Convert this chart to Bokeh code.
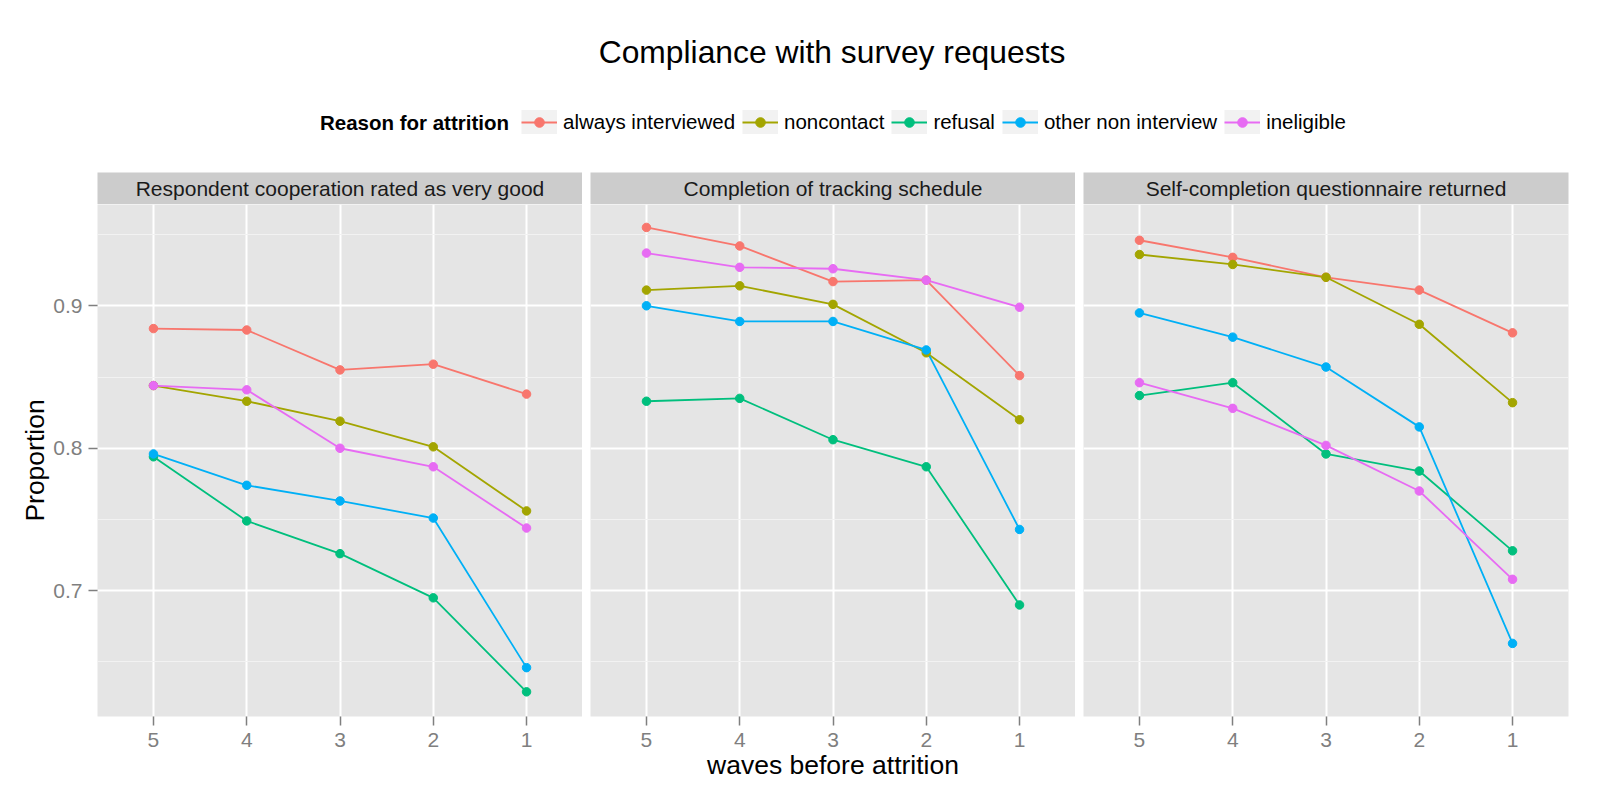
from bokeh.plotting import figure
from bokeh.models import (ColumnDataSource, Range1d, FixedTicker, Legend, LegendItem, Label)
from bokeh.layouts import column, row
from bokeh.embed import file_html
from bokeh.resources import INLINE

# ---------------- data ----------------
title_text = "Compliance with survey requests"
legend_title = "Reason for attrition"
x_label = "waves before attrition"
y_label = "Proportion"

waves = [5, 4, 3, 2, 1]
y_ticks = [0.7, 0.8, 0.9]
y_minor = [0.65, 0.75, 0.85, 0.95]

facets = ["Respondent cooperation rated as very good",
          "Completion of tracking schedule",
          "Self-completion questionnaire returned"]
reasons = ["always interviewed", "noncontact", "refusal", "other non interview", "ineligible"]
colors = ["#F8766D", "#A3A500", "#00BF7D", "#00B0F6", "#E76BF3"]

coop_always = [0.884, 0.883, 0.855, 0.859, 0.838]
coop_noncontact = [0.844, 0.833, 0.819, 0.801, 0.756]
coop_refusal = [0.794, 0.749, 0.726, 0.695, 0.629]
coop_other = [0.796, 0.774, 0.763, 0.751, 0.646]
coop_ineligible = [0.844, 0.841, 0.800, 0.787, 0.744]

track_always = [0.955, 0.942, 0.917, 0.918, 0.851]
track_noncontact = [0.911, 0.914, 0.901, 0.867, 0.820]
track_refusal = [0.833, 0.835, 0.806, 0.787, 0.690]
track_other = [0.900, 0.889, 0.889, 0.869, 0.743]
track_ineligible = [0.937, 0.927, 0.926, 0.918, 0.899]

scq_always = [0.946, 0.934, 0.920, 0.911, 0.881]
scq_noncontact = [0.936, 0.929, 0.920, 0.887, 0.832]
scq_refusal = [0.837, 0.846, 0.796, 0.784, 0.728]
scq_other = [0.895, 0.878, 0.857, 0.815, 0.663]
scq_ineligible = [0.846, 0.828, 0.802, 0.770, 0.708]

facet_series = [
    [coop_always, coop_noncontact, coop_refusal, coop_other, coop_ineligible],
    [track_always, track_noncontact, track_refusal, track_other, track_ineligible],
    [scq_always, scq_noncontact, scq_refusal, scq_other, scq_ineligible],
]

# ---------------- style ----------------
FONT = "Liberation Sans"
Y0, Y1 = 0.6117, 0.9711
X0, X1 = 5.6, 0.4
FRAME_W, FRAME_H = 485, 512
LEFTS = [97, 8, 8]
RIGHTS = [0, 0, 16]
TOTAL_W = sum(LEFTS) + sum(RIGHTS) + 3 * FRAME_W
TOP_H = 172

# ---------------- top: title + legend ----------------
top = figure(frame_width=TOTAL_W, frame_height=TOP_H, x_range=Range1d(0, TOTAL_W),
             y_range=Range1d(0, TOP_H), output_backend="svg", toolbar_location=None,
             x_axis_location=None, y_axis_location=None, min_border=0,
             outline_line_color=None, background_fill_color="white")
top.grid.visible = False

top.add_layout(Label(x=831.5, y=TOP_H - 51, text=title_text, text_align="center",
                     text_baseline="middle", text_font=FONT, text_font_size="31.8px",
                     text_color="black"))
top.add_layout(Label(x=508.5, y=TOP_H - 122, text=legend_title, text_align="right",
                     text_baseline="middle", text_font=FONT, text_font_size="20.5px",
                     text_font_style="bold", text_color="black"))

items = []
for name, col, vals in zip(reasons, colors, facet_series[0]):
    src = ColumnDataSource(dict(x=waves, y=vals))
    box = top.line(x="x", y="y", source=src, line_color="#F2F2F2", line_width=36,
                   line_cap="butt", visible=False)
    lr = top.line(x="x", y="y", source=src, line_color=col, line_width=1.8, visible=False)
    sr = top.scatter(x="x", y="y", source=src, marker="circle", fill_color=col,
                     line_color=col, size=8, visible=False)
    items.append(LegendItem(label=name, renderers=[box, lr, sr]))

legend = Legend(items=items, orientation="horizontal", location=(521, TOP_H - 122 - 12),
                glyph_width=36, glyph_height=24, label_standoff=6, spacing=7,
                padding=0, margin=0, border_line_color=None, background_fill_alpha=0,
                label_text_font=FONT, label_text_font_size="20.5px", label_text_color="black",
                click_policy="none")
top.add_layout(legend)

# ---------------- strips ----------------
strips = []
for i, name in enumerate(facets):
    s = figure(frame_width=FRAME_W, frame_height=32, x_range=Range1d(0, 1), y_range=Range1d(0, 1),
               output_backend="svg", toolbar_location=None, x_axis_location=None,
               y_axis_location=None, min_border_left=LEFTS[i], min_border_right=RIGHTS[i],
               min_border_top=0, min_border_bottom=0, outline_line_color=None,
               background_fill_color="#CCCCCC")
    s.grid.visible = False
    s.add_layout(Label(x=0.5, y=0.5, text=name, text_align="center", text_baseline="middle",
                       text_font=FONT, text_font_size="21px", text_color="#1A1A1A"))
    strips.append(s)

# ---------------- panels ----------------
panels = []
for i, series in enumerate(facet_series):
    p = figure(frame_width=FRAME_W, frame_height=FRAME_H, x_range=Range1d(X0, X1),
               y_range=Range1d(Y0, Y1), output_backend="svg", toolbar_location=None,
               min_border_left=LEFTS[i], min_border_right=RIGHTS[i], min_border_top=0,
               min_border_bottom=0, background_fill_color="#E5E5E5", outline_line_color=None,
               y_axis_location="left" if i == 0 else None)
    p.xgrid.ticker = FixedTicker(ticks=waves)
    p.xgrid.grid_line_color = "white"
    p.xgrid.grid_line_width = 2
    p.ygrid.ticker = FixedTicker(ticks=y_ticks, minor_ticks=y_minor)
    p.ygrid.grid_line_color = "white"
    p.ygrid.grid_line_width = 2
    p.ygrid.minor_grid_line_color = "#F2F2F2"
    p.ygrid.minor_grid_line_width = 1

    ax = p.xaxis[0]
    ax.ticker = FixedTicker(ticks=waves)
    ax.axis_line_color = None
    ax.major_tick_in = 0
    ax.major_tick_out = 9
    ax.major_tick_line_color = "#7F7F7F"
    ax.major_tick_line_width = 1.5
    ax.minor_tick_line_color = None
    ax.major_label_text_font = FONT
    ax.major_label_text_font_size = "21px"
    ax.major_label_text_color = "#7F7F7F"
    ax.major_label_standoff = 7
    if i == 1:
        ax.axis_label = x_label
        ax.axis_label_text_font = FONT
        ax.axis_label_text_font_size = "26.5px"
        ax.axis_label_text_font_style = "normal"
        ax.axis_label_text_color = "black"
        ax.axis_label_standoff = 0

    if i == 0:
        ay = p.yaxis[0]
        ay.ticker = FixedTicker(ticks=y_ticks)
        ay.axis_line_color = None
        ay.major_tick_in = 0
        ay.major_tick_out = 9
        ay.major_tick_line_color = "#7F7F7F"
        ay.major_tick_line_width = 1.5
        ay.minor_tick_line_color = None
        ay.major_label_text_font = FONT
        ay.major_label_text_font_size = "21px"
        ay.major_label_text_color = "#7F7F7F"
        ay.major_label_standoff = 6
        ay.axis_label = y_label
        ay.axis_label_text_font = FONT
        ay.axis_label_text_font_size = "26.5px"
        ay.axis_label_text_font_style = "normal"
        ay.axis_label_text_color = "black"
        ay.axis_label_standoff = 0

    sources = [ColumnDataSource(dict(x=waves, y=vals)) for vals in series]
    for src, col in zip(sources, colors):
        p.line(x="x", y="y", source=src, line_color=col, line_width=1.8)
    for src, col in zip(sources, colors):
        p.scatter(x="x", y="y", source=src, marker="circle", size=8.5,
                  fill_color=col, line_color=col)
    panels.append(p)

layout = column(top, row(*strips), row(*panels), spacing=0)

open("out.html", "w").write(file_html(layout, INLINE))
